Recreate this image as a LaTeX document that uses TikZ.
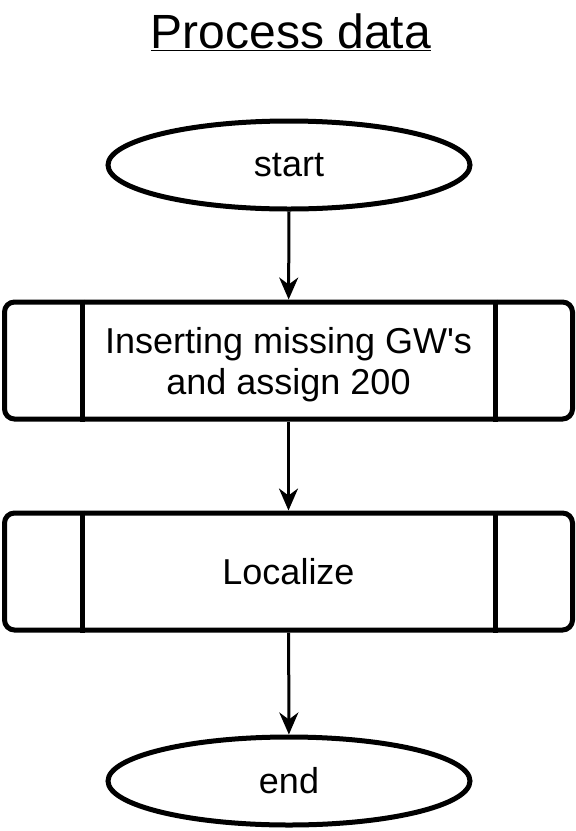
\documentclass[tikz,border=0pt]{standalone}
\usepackage{fontspec}
\setmainfont{Liberation Sans}[Ligatures=TeXOff]
\usetikzlibrary{arrows.meta,shapes.geometric}
\begin{document}
\begin{tikzpicture}[x=1pt,y=-1pt,
  term/.style={ellipse,draw,line width=5pt,minimum width=362pt,minimum height=88pt,inner sep=0pt,font=\fontsize{36}{42}\selectfont},
  subproc/.style={draw,line width=5pt,rounded corners=10pt,minimum width=568pt,minimum height=117pt,inner sep=0pt,align=center,font=\fontsize{36}{41}\selectfont},
  inner/.style={line width=5pt},
  flow/.style={line width=3pt,-{Stealth[length=22pt,width=19pt,inset=7pt]}}]
\useasboundingbox (0,0) rectangle (576,831);
\node[font=\fontsize{48}{56}\selectfont] (title) at (291,32) {\underline{Process data}};
\node[term] (start) at (289,165) {start};
\node[subproc] (p1) at (288.5,360.5) {\rule{0pt}{35pt}Inserting missing GW's\\and assign 200};
\node[subproc] (p2) at (288.5,571.5) {Localize};
\node[term] (end) at (289,781) {end};
\foreach \n in {p1,p2}{
  \draw[inner] ([xshift=80pt]\n.north west) -- ([xshift=80pt]\n.south west);
  \draw[inner] ([xshift=-80pt]\n.north east) -- ([xshift=-80pt]\n.south east);
}
\draw[flow] (start) -- (p1);
\draw[flow] (p1) -- (p2);
\draw[flow] (p2) -- (end);
\end{tikzpicture}
\end{document}
